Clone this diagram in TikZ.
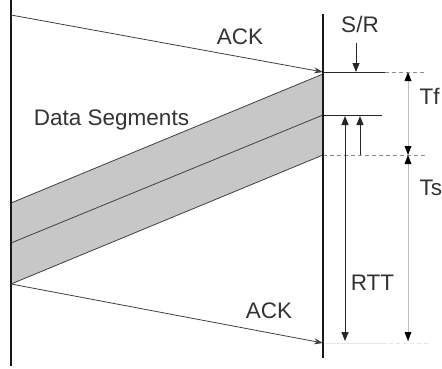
\documentclass[tikz,border=0pt]{standalone}
\usepackage{fontspec}
\setmainfont{Liberation Sans}
\usetikzlibrary{arrows.meta}
\begin{document}
\begin{tikzpicture}[x=1pt,y=-1pt,
  lbl/.style={font=\fontsize{22.5}{26}\selectfont, text=black!80, inner sep=0pt, anchor=base},
  axis/.style={line width=2pt, black!90},
  msg/.style={line width=0.8pt, black!75},
  tip/.style={-{Triangle[length=9pt,width=7pt]}},
  tips/.style={{Triangle[length=9pt,width=7pt]}-{Triangle[length=9pt,width=7pt]}},
  ltgray/.style={line width=1pt, black!25},
  dashgray/.style={line width=0.9pt, black!45, dash pattern=on 4pt off 3pt},
  head/.style={fill=black}
]
\useasboundingbox (0,0) rectangle (442,368);
% coordinates
\coordinate (Ltop) at (11,0);
\coordinate (Lbot) at (11,366);
\coordinate (Rtop) at (323,14);
\coordinate (Rbot) at (323,358);
\coordinate (ack1s) at (11,15);
\coordinate (ack1e) at (323,72);
\coordinate (ack2s) at (11,284);
\coordinate (ack2e) at (323,343);
\coordinate (bandTL) at (11,203);
\coordinate (bandTR) at (323,74);
\coordinate (bandML) at (11,243);
\coordinate (bandMR) at (323,115);
\coordinate (bandBL) at (11,284);
\coordinate (bandBR) at (323,155);
% band
\fill[fill=black!22] (bandTL) -- (bandTR) -- (bandBR) -- (bandBL) -- cycle;
\draw[msg] (bandTL) -- (bandTR);
\draw[msg] (bandML) -- (bandMR);
\draw[msg] (bandBL) -- (bandBR);
% horizontal reference lines
\coordinate (h1a) at (323,72); \coordinate (h1b) at (385,72); \coordinate (h1c) at (425,72);
\draw[line width=0.9pt, black!85] (h1a) -- (h1b);
\draw[dashgray] (h1b) -- (h1c);
\coordinate (h2a) at (323,115); \coordinate (h2b) at (382,115);
\draw[line width=0.9pt, black!85] (h2a) -- (h2b);
\coordinate (h3a) at (323,155); \coordinate (h3b) at (428,155);
\draw[dashgray] (h3a) -- (h3b);
\coordinate (h4a) at (325,343); \coordinate (h4b) at (382,343); \coordinate (h4c) at (428,343);
\draw[line width=1pt, black!10] (h4a) -- (h4b);
\draw[line width=1pt, black!10, dash pattern=on 4pt off 3pt] (h4b) -- (h4c);
% axes
\draw[axis] (Ltop) -- (Lbot);
\draw[axis] (Rtop) -- (Rbot);
% ACK arrows
\draw[msg, -{Stealth[length=9pt,width=6pt]}] (ack1s) -- (ack1e);
\draw[msg, -{Stealth[length=9pt,width=6pt]}] (ack2s) -- (ack2e);
% S/R
\node[lbl] (sr) at (360,32) {S/R};
\coordinate (srs) at (356,43);
\coordinate (sre) at (356,72);
\draw[line width=0.9pt, black!85, tip] (srs) -- (sre);
% RTT arrows
\coordinate (r1t) at (345,116);
\coordinate (r1b) at (345,341);
\draw[line width=0.9pt, black!85, tips] (r1t) -- (r1b);
\coordinate (r2t) at (360,116);
\coordinate (r2b) at (360,155);
\draw[line width=0.9pt, black!85, tip] (r2b) -- (r2t);
% Tf / Ts arrows (light line, black heads)
\coordinate (tft) at (408,72);
\coordinate (tfb) at (408,155);
\coordinate (tsb) at (408,341);
\draw[ltgray] (tft) -- (tsb);
\fill[head] (tft) -- ++(-3.5,9) -- ++(7,0) -- cycle;
\fill[head] (tfb) -- ++(-3.5,-9) -- ++(7,0) -- cycle;
\fill[head] (tfb) -- ++(-3.5,9) -- ++(7,0) -- cycle;
\fill[head] (tsb) -- ++(-3.5,-9) -- ++(7,0) -- cycle;
% labels
\node[lbl] (ack1) at (240,44) {ACK};
\node[lbl] (ack2) at (269,318) {ACK};
\node[lbl] (data) at (111.5,125) {Data Segments};
\node[lbl, anchor=base west] (tf) at (419.5,104) {Tf};
\node[lbl, anchor=base west] (ts) at (419.5,195) {Ts};
\node[lbl] (rtt) at (372.5,290) {RTT};
\end{tikzpicture}
\end{document}
